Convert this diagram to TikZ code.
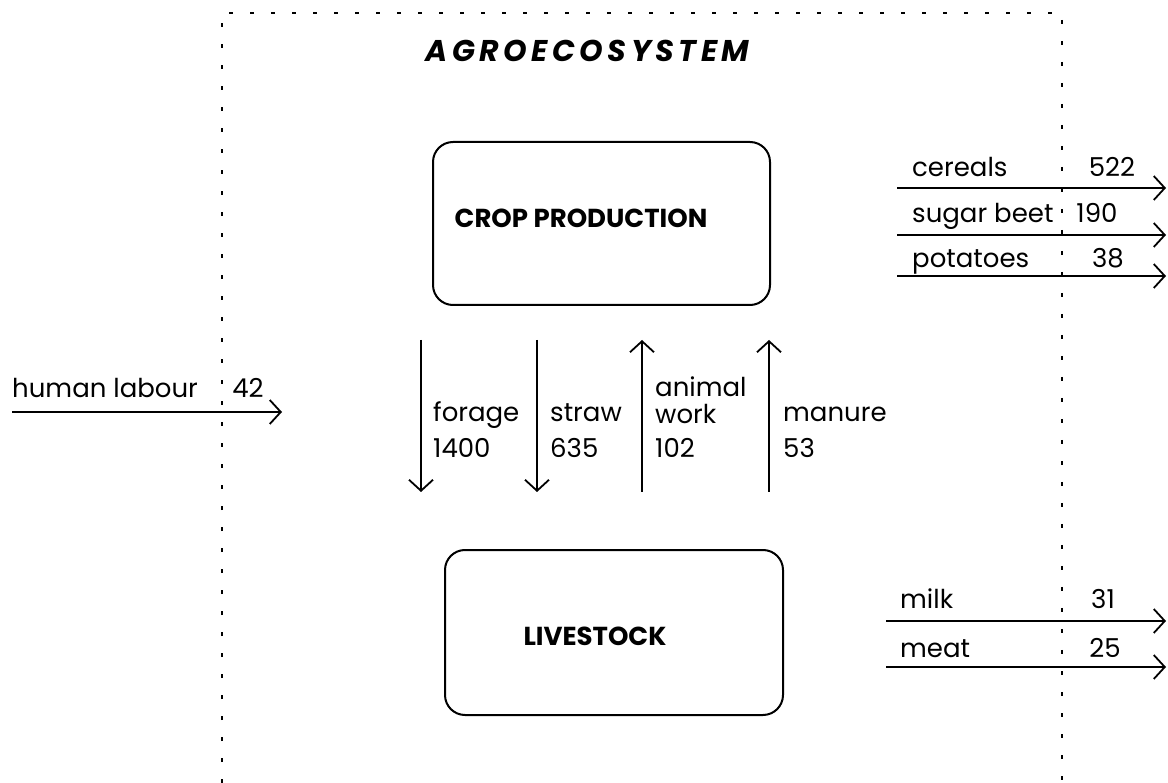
\documentclass[tikz,border=0pt]{standalone}
\usepackage{fontspec}
\setmainfont{Poppins}
\usetikzlibrary{arrows.meta}
\begin{document}
\begin{tikzpicture}[x=1pt,y=-1pt,
  flow/.style={line width=1.8pt,-{Straight Barb[length=11pt,width=24pt,line width=1.8pt]}},
  lbl/.style={inner sep=0pt,anchor=base west,font=\fontsize{26}{28}\selectfont},
  num/.style={inner sep=0pt,anchor=base,font=\fontsize{26}{28}\selectfont},
  box/.style={draw,line width=2pt,rounded corners=20pt,inner sep=0pt},
  boxtext/.style={inner sep=0pt,anchor=base,font=\bfseries\fontsize{26}{30}\selectfont},
  border/.style={line width=1.5pt,dash pattern=on 4pt off 17pt},
  titletext/.style={inner sep=0pt,anchor=base,font=\bfseries\itshape\fontsize{30}{32}\selectfont}]
\useasboundingbox (0,0) rectangle (1168,783);
% system border
\coordinate (bl) at (222,783);
\coordinate (tl) at (222,13);
\coordinate (tr) at (1062,13);
\coordinate (br) at (1062,783);
\draw[border] (bl) -- (tl) -- (tr) -- (br);
% title
\node[titletext] (title) at (587.5,62) {A\hspace{4.5pt}G\hspace{4.5pt}R\hspace{4.5pt}O\hspace{4.5pt}E\hspace{4.5pt}C\hspace{4.5pt}O\hspace{4.5pt}S\hspace{4.5pt}Y\hspace{4.5pt}S\hspace{4.5pt}T\hspace{4.5pt}E\hspace{4.5pt}M};
% boxes
\node[box,minimum width=337pt,minimum height=163pt] (crop) at (601.5,223.5) {};
\node[boxtext] (cropl) at (581,228) {CROP PRODUCTION};
\node[box,minimum width=338pt,minimum height=165pt] (live) at (614,632.5) {};
\node[boxtext] (livel) at (595,645) {LIVESTOCK};
% internal flows
\coordinate (f1) at (421,340); \coordinate (f2) at (421,492);
\coordinate (s1) at (537,340); \coordinate (s2) at (537,492);
\coordinate (a1) at (642,492); \coordinate (a2) at (642,340);
\coordinate (m1) at (769,492); \coordinate (m2) at (769,340);
\draw[flow] (f1) -- (f2);
\draw[flow] (s1) -- (s2);
\draw[flow] (a1) -- (a2);
\draw[flow] (m1) -- (m2);
\node[lbl] (forage) at (433,422) {forage};
\node[lbl] (forage n) at (433,458) {1400};
\node[lbl] (straw) at (550,422) {straw};
\node[lbl] (straw n) at (550,458) {635};
\node[lbl] (animal) at (655,397) {animal};
\node[lbl] (work) at (655,424) {work};
\node[lbl] (work n) at (655,458) {102};
\node[lbl] (manure) at (783,422) {manure};
\node[lbl] (manure n) at (783,458) {53};
% input
\coordinate (h1) at (12,412); \coordinate (h2) at (282,412);
\draw[flow] (h1) -- (h2);
\node[lbl] (human) at (12,398) {human labour};
\node[num] (human n) at (248,398) {42};
% crop outputs
\coordinate (c1) at (897,188); \coordinate (c2) at (1166,188);
\coordinate (b1) at (897,235); \coordinate (b2) at (1166,235);
\coordinate (p1) at (897,276); \coordinate (p2) at (1166,276);
\draw[flow] (c1) -- (c2);
\draw[flow] (b1) -- (b2);
\draw[flow] (p1) -- (p2);
\node[lbl] (cereals) at (912,177) {cereals};
\node[num] (cereals n) at (1112,177) {522};
\node[lbl] (beet) at (912,223) {sugar beet};
\node[num] (beet n) at (1097,223) {190};
\node[lbl] (potatoes) at (912,268) {potatoes};
\node[num] (potatoes n) at (1108,268) {38};
% livestock outputs
\coordinate (k1) at (886,621); \coordinate (k2) at (1166,621);
\coordinate (e1) at (886,667); \coordinate (e2) at (1166,667);
\draw[flow] (k1) -- (k2);
\draw[flow] (e1) -- (e2);
\node[lbl] (milk) at (900,608) {milk};
\node[num] (milk n) at (1103,608) {31};
\node[lbl] (meat) at (900,657) {meat};
\node[num] (meat n) at (1105,657) {25};
\end{tikzpicture}
\end{document}
